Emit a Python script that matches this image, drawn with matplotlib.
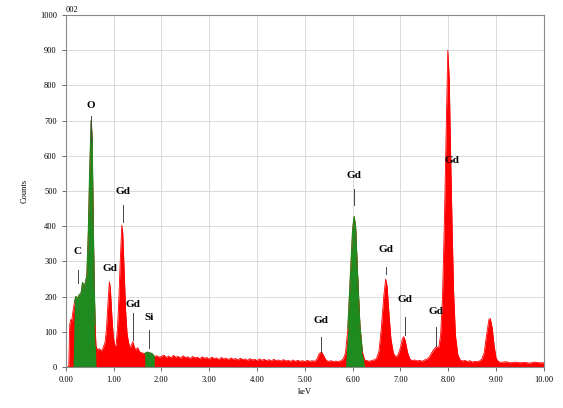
import numpy as np
import matplotlib.pyplot as plt

plt.rcParams['font.family'] = ['Liberation Serif', 'DejaVu Serif']

# spectrum (keV, counts)
kev = [0.00, 0.06, 0.08, 0.10, 0.12, 0.15, 0.18, 0.21, 0.25, 0.28, 0.32, 0.35, 0.38, 0.41, 0.44,
       0.47, 0.50, 0.53, 0.55, 0.57, 0.59, 0.61, 0.63, 0.66, 0.70, 0.74, 0.78, 0.82, 0.85, 0.88,
       0.91, 0.93, 0.96, 0.99, 1.02, 1.05, 1.08, 1.11, 1.14, 1.17, 1.19, 1.22, 1.25, 1.28, 1.31,
       1.34, 1.37, 1.40, 1.43, 1.46, 1.50, 1.55, 1.60, 1.65, 1.70, 1.75, 1.80, 1.85, 1.90, 1.95,
       2.00, 2.05, 2.10, 2.15, 2.20, 2.25, 2.30, 2.35, 2.40, 2.45, 2.50, 2.55, 2.60, 2.65, 2.70,
       2.75, 2.80, 2.85, 2.90, 2.95, 3.00, 3.05, 3.10, 3.15, 3.20, 3.25, 3.30, 3.35, 3.40, 3.45,
       3.50, 3.55, 3.60, 3.65, 3.70, 3.75, 3.80, 3.85, 3.90, 3.95, 4.00, 4.05, 4.10, 4.15, 4.20,
       4.25, 4.30, 4.35, 4.40, 4.45, 4.50, 4.55, 4.60, 4.65, 4.70, 4.75, 4.80, 4.85, 4.90, 4.95,
       5.00, 5.05, 5.10, 5.15, 5.20, 5.25, 5.30, 5.35, 5.40, 5.45, 5.50, 5.55, 5.60, 5.65, 5.70,
       5.75, 5.80, 5.85, 5.90, 5.95, 6.00, 6.03, 6.06, 6.10, 6.15, 6.20, 6.25, 6.30, 6.35, 6.40,
       6.45, 6.50, 6.55, 6.60, 6.65, 6.69, 6.72, 6.76, 6.80, 6.85, 6.90, 6.95, 7.00, 7.04, 7.07,
       7.10, 7.15, 7.20, 7.25, 7.30, 7.35, 7.40, 7.45, 7.50, 7.55, 7.60, 7.65, 7.70, 7.75, 7.80,
       7.84, 7.88, 7.92, 7.96, 7.99, 8.02, 8.05, 8.08, 8.11, 8.15, 8.20, 8.25, 8.30, 8.35, 8.40,
       8.45, 8.50, 8.55, 8.60, 8.65, 8.70, 8.75, 8.80, 8.85, 8.88, 8.92, 8.96, 9.00, 9.05, 9.10,
       9.20, 9.30, 9.40, 9.50, 9.60, 9.70, 9.80, 9.90, 10.00]
counts = [0, 0, 120, 135, 130, 160, 185, 200, 195, 205, 210, 240, 225, 240, 260,
          380, 560, 700, 640, 420, 250, 120, 60, 48, 52, 45, 55, 70, 110, 180,
          242, 225, 150, 90, 60, 62, 110, 200, 310, 403, 380, 270, 160, 95, 70,
          55, 62, 72, 58, 48, 55, 42, 40, 38, 42, 40, 38, 30, 32, 28,
          30, 34, 27, 31, 26, 33, 28, 30, 25, 32, 27, 29, 24, 30, 26,
          28, 23, 29, 25, 27, 22, 28, 24, 26, 21, 27, 23, 25, 21, 26,
          22, 24, 20, 25, 21, 23, 19, 24, 20, 22, 18, 23, 19, 22, 18,
          21, 17, 22, 18, 20, 17, 21, 17, 19, 16, 20, 16, 19, 16, 18,
          15, 19, 16, 18, 16, 22, 38, 43, 30, 18, 16, 18, 15, 17, 15,
          18, 22, 40, 110, 250, 390, 427, 400, 270, 120, 45, 20, 18, 16, 19,
          20, 25, 45, 110, 200, 250, 230, 150, 80, 40, 28, 35, 55, 80, 86,
          75, 40, 22, 18, 20, 17, 19, 16, 20, 22, 28, 40, 50, 58, 55,
          90, 200, 420, 700, 900, 820, 600, 400, 220, 90, 35, 20, 17, 19, 15,
          18, 14, 16, 15, 17, 22, 40, 90, 135, 138, 110, 60, 25, 15, 13,
          15, 12, 14, 12, 13, 11, 14, 12, 12]

# energy windows drawn in green
green_windows = [(0.16, 0.62), (1.62, 1.86), (5.86, 6.22)]

# peak labels: text, keV, label height, marker line bottom/top
peak_names = ['O', 'C', 'Gd', 'Gd', 'Gd', 'Si', 'Gd', 'Gd', 'Gd', 'Gd', 'Gd', 'Gd']
peak_kev = [0.52, 0.25, 0.92, 1.19, 1.40, 1.73, 5.33, 6.03, 6.69, 7.09, 7.75, 8.08]
label_y = [730, 315, 268, 485, 165, 128, 118, 530, 322, 178, 145, 575]
line_y0 = [640, 238, 0, 412, 77, 54, 43, 460, 265, 90, 60, 0]
line_y1 = [712, 275, 0, 460, 153, 105, 85, 505, 285, 143, 114, 0]

x = np.array(kev)
y = np.array(counts)

fig = plt.figure(figsize=(5.63, 4.08), dpi=100)
ax = fig.add_axes([0.117, 0.1005, 0.849, 0.8625])

ax.fill_between(x, 0, y, color='#ff0000', lw=0)
ax.plot(x, y, color='#ff0000', lw=0.6)
for lo, hi in green_windows:
    m = (x >= lo) & (x <= hi)
    ax.fill_between(x, 0, y, where=m, color='#1f8a1f', lw=0, interpolate=True)
    ax.plot(x[m], y[m], color='#1f8a1f', lw=0.9)

for name, k, ly, a, b in zip(peak_names, peak_kev, label_y, line_y0, line_y1):
    if b > a:
        ax.plot([k, k], [a, b], color='#444444', lw=0.7)
    ax.text(k, ly, name, ha='center', va='bottom', fontsize=8, fontweight='bold')

ax.set_xlim(0, 10)
ax.set_ylim(0, 1000)
ax.set_xticks(np.arange(0, 11, 1))
ax.set_xticklabels([f'{v:.2f}' for v in range(11)])
ax.set_yticks(np.arange(0, 1001, 100))
ax.tick_params(labelsize=6, length=3, width=0.6, color='#555555')
ax.grid(True, color='#d4d4d4', lw=0.6)
ax.set_axisbelow(True)
for s in ax.spines.values():
    s.set_color('#888888')
    s.set_linewidth(0.8)

ax.set_xlabel('keV', fontsize=6, labelpad=3)
ax.set_ylabel('Counts', fontsize=6, labelpad=8)
ax.text(0.0, 1.004, '002', transform=ax.transAxes, fontsize=6, ha='left', va='bottom')

fig.savefig('out.png', dpi=100)
